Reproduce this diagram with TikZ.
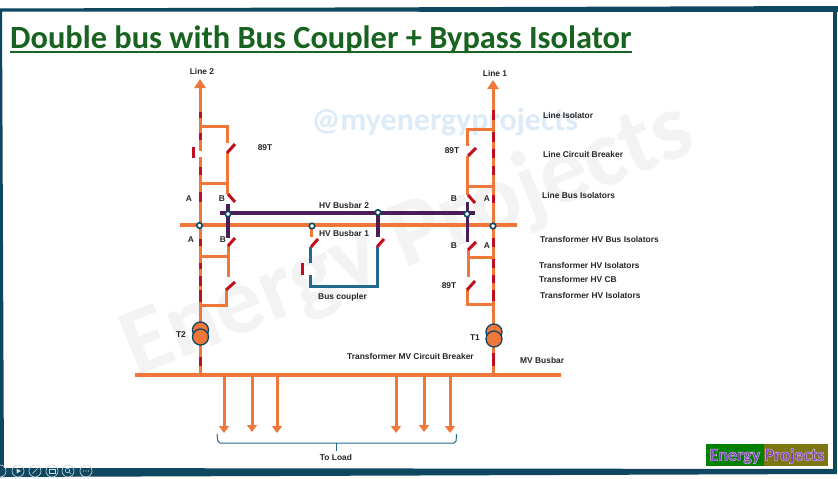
\documentclass[tikz,border=0pt]{standalone}
\usepackage{fontspec}
\setmainfont{Carlito}
\newfontfamily\lblfont{Liberation Sans}
\usetikzlibrary{arrows.meta,calc}
\definecolor{orn}{HTML}{F0773A}
\definecolor{redb}{HTML}{C00F1E}
\definecolor{purp}{HTML}{4B1C57}
\definecolor{blu}{HTML}{1F6A8E}
\definecolor{frm}{HTML}{0F4761}
\definecolor{ttl}{HTML}{17631F}
\definecolor{wmk}{HTML}{F3F3F3}
\definecolor{wmb}{HTML}{DDEBF8}
\definecolor{logop}{HTML}{7B3FB8}
\tikzset{
 x=1pt,y=-1pt,
 wire/.style={draw=orn,line width=3pt},
 busw/.style={draw=orn,line width=3.6pt},
 red/.style={draw=redb,line width=3pt},
 pur/.style={draw=purp,line width=3.2pt},
 blue/.style={draw=blu,line width=3pt},
 lbl/.style={font=\lblfont\bfseries\fontsize{8.4}{10}\selectfont,text=black!85,inner sep=0pt,yshift=-0.7pt},
 dot/.style={circle,draw=frm,fill=white,line width=1.6pt,minimum size=5.5pt,inner sep=0pt},
 tip/.style={-{Triangle[length=7pt,width=10pt]},draw=orn,line width=3pt},
 up/.style={-{Triangle[length=9pt,width=11pt]},draw=orn,line width=3pt},
 xf/.style={circle,draw=frm,fill=orn,line width=1.3pt,minimum size=16pt,inner sep=0pt},
 uic/.style={draw=white!80!frm,line width=0.6pt},
}
\begin{document}
\begin{tikzpicture}
\useasboundingbox (0,0) rectangle (838,479);
\fill[white] (0,0) rectangle (838,479);
% watermarks
\node[rotate=22,text=wmk,font=\bfseries\fontsize{95}{95}\selectfont] (wm) at (408,240) {Energy Projects};
\node[text=wmb,font=\bfseries\fontsize{32}{33}\selectfont] (wm2) at (445,122) {@myenergyprojects};
% frame
\fill[frm] (0,8.5) -- (838,6) -- (838,12) -- (0,11.5) -- cycle;
\fill[frm] (0,468) -- (836,469) -- (836,474) -- (0,477) -- cycle;
\fill[frm] (0,9) -- (2,9) -- (4,477) -- (0,477) -- cycle;
\fill[frm] (833,7) -- (836.5,7) -- (836.5,474) -- (833,474) -- cycle;
% slideshow controls
\foreach \x in {18,35,52,68,86} \draw[uic] (\x,471) circle (6);
\draw[uic] (0,471) circle (6);
\fill[white!80!frm] (16.5,468.5) -- (21,471) -- (16.5,473.5) -- cycle;
\draw[uic] (32.5,473.5) -- (37.5,468.5);
\draw[uic] (49,469) rectangle (55,473);
\draw[uic] (67.5,470.5) circle (2.2) (69,472) -- (71,474);
\foreach \x in {83.5,86,88.5} \fill[white!80!frm] (\x,471) circle (0.6);
% title
\node[anchor=base west,inner sep=0pt,text=ttl,font=\bfseries\fontsize{32.4}{36}\selectfont] (title) at (10,48) {Double bus with Bus Coupler + Bypass Isolator};
\draw[ttl,line width=1.5pt] (10,52) -- (632,52);
% junctions
\coordinate (L2) at (200,88); \coordinate (L2tip) at (200,79);
\coordinate (L1) at (493,88); \coordinate (L1tip) at (493,80);
\coordinate (mvl) at (200,375); \coordinate (mvr) at (493,375);
% main verticals
\draw[wire] (mvl) -- (200,157);
\draw[wire] (200,151) -- (L2);
\draw[up] (200,100) -- (L2tip);
\draw[wire] (mvr) -- (L1);
\draw[up] (493,100) -- (L1tip);
% HV bus 1, MV bus
\draw[busw] (180,225) -- (517,225);
\draw[busw] (135,375) -- (561,375);
% HV bus 2
\draw[pur] (220,213) -- (475,213);
\draw[pur] (228,204) -- (228,238);
\draw[pur] (467.5,202) -- (467.5,242);
\draw[pur] (378,213) -- (378,237);
% left branch
\draw[wire] (200,126) -- (227,126) -- (227,143);
\draw[wire] (227,153) -- (227,194);
\draw[wire] (200,183) -- (227,183);
\draw[wire] (200,256) -- (228,256);
\draw[wire] (228,246) -- (228,277);
\draw[wire] (226,290) -- (226,305) -- (200,305);
% right branch
\draw[wire] (493,129) -- (467.5,129) -- (467.5,146);
\draw[wire] (467.5,156) -- (467.5,195);
\draw[wire] (467.5,186) -- (493,186);
\draw[wire] (468,250) -- (468,277);
\draw[wire] (468,257) -- (493,257);
\draw[wire] (467,290) -- (467,304) -- (493,304);
% coupler
\draw[wire] (311.5,226) -- (311.5,237);
\draw[blue] (310.5,247) -- (310.5,263);
\draw[blue] (310.5,275) -- (310.5,286.5) -- (377,286.5) -- (377,247);
% red on mains
\foreach \a/\b in {112/118,133/140,167/175,192/202,239/246,263/269,276/286,290/302,357/366}
  \draw[red] (200,\a) -- (200,\b);
\foreach \a/\b in {110/120,132/142,149/158,166/175,195/203,238/247,259/268,275/283,290/301,353/366}
  \draw[red] (493,\a) -- (493,\b);
% red breaker bars
\draw[red] (193,147) -- (193,158);
\draw[red] (302,263) -- (302,275);
% blades
\foreach \x/\y/\u/\v in {227/153/235/144,228/194/235/202,228/246/235/238,226/290/235/282,311/247/318/239,377/247/384/239,468/156/476/148,468/195/475/203,468/250/476/242,467/290/475/281}
  \draw[red] (\x,\y) -- (\u,\v);
% dots
\node[dot] (d1) at (199.5,225.5) {};
\node[dot] (d2) at (228,214) {};
\node[dot] (d3) at (378,212.5) {};
\node[dot] (d4) at (312,226) {};
\node[dot] (d5) at (467,214) {};
\node[dot] (d6) at (493,226) {};
% transformers
\node[xf] (t2a) at (200.5,330) {};
\node[xf] (t2b) at (200.5,337) {};
\node[xf] (t1a) at (494,332) {};
\node[xf] (t1b) at (494,339) {};
% load arrows
\foreach \x/\y in {224/433,252/432,277/433,396/433,424/432,450/433}
  \draw[tip] (\x,376) -- (\x,\y);
% brace
\draw[blu,line width=1pt,rounded corners=2pt] (217,434) -- (218,443) -- (456,443) -- (456.5,434);
\draw[blu,line width=1pt] (336,443) -- (336,451);
% labels
\foreach \n/\x/\y/\t in {a/202/71/Line 2,b/495/73/Line 1,c/265/147/89T,d/452/150/89T,e/189/198/A,f/222/198/B,g/454/198/B,h/487/198/A,i/191/239/A,j/223/239/B,k/454/245/B,l/487/245/A,m/449/285/89T,n/181/334/T2,o/475/337/T1}
  \node[lbl] (\n) at (\x,\y) {\t};
\node[lbl] (hv2) at (344,205) {HV Busbar 2};
\node[lbl] (hv1) at (344,233) {HV Busbar 1};
\node[lbl] (bc) at (342.5,297) {Bus coupler};
\node[lbl] (tl) at (336,457) {To Load};
\node[lbl,anchor=west] (r0) at (347,356) {Transformer MV Circuit Breaker};
\node[lbl,anchor=west] (r1) at (520,360) {MV Busbar};
\node[lbl,anchor=west] (r2) at (543,115) {Line Isolator};
\node[lbl,anchor=west] (r3) at (543,154) {Line Circuit Breaker};
\node[lbl,anchor=west] (r4) at (542,195) {Line Bus Isolators};
\node[lbl,anchor=west] (r5) at (540,239) {Transformer HV Bus Isolators};
\node[lbl,anchor=west] (r6) at (539,265) {Transformer HV Isolators};
\node[lbl,anchor=west] (r7) at (539,279) {Transformer HV CB};
\node[lbl,anchor=west] (r8) at (540,295) {Transformer HV Isolators};
% logo
\fill[green!50!black] (706,444) rectangle (764,466);
\fill[olive!85!black] (764,444) rectangle (828,466);
\node[text=logop,font=\bfseries\fontsize{18}{20}\selectfont,inner sep=0pt] (logo) at (767,456) {\special{pdf:code q 0.9 0.75 0.95 RG 0.4 w 2 Tr}Energy Projects\special{pdf:code 0 Tr Q}};
\end{tikzpicture}
\end{document}
